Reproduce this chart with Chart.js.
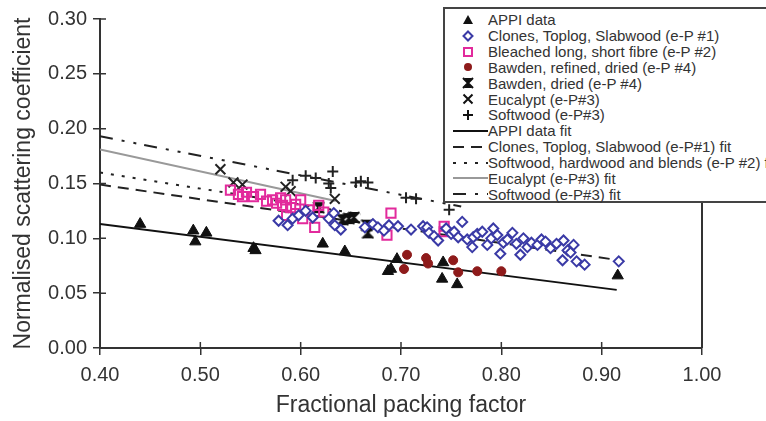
<!DOCTYPE html>
<html>
<head>
<meta charset="utf-8">
<script src="https://cdn.jsdelivr.net/npm/chart.js@4.4.0/dist/chart.umd.min.js"></script>
<style>
  html, body { margin: 0; padding: 0; background: #fff; overflow: hidden; }
  #wrap { position: relative; width: 766px; height: 421px; overflow: hidden; }
  #legend {
    position: absolute; left: 443px; top: 7px; width: 360px; height: 196px;
    box-sizing: border-box; border: 2px solid #444; background: #fff;
    padding-top: 3px; font-family: 'Liberation Sans', Arial, sans-serif;
    font-size: 15px; color: #333;
  }
  .row { display: flex; align-items: center; height: 15.85px; white-space: nowrap; }
  .row svg { flex: 0 0 43px; }
</style>
</head>
<body>
<div id="wrap">
  <canvas id="chart" width="766" height="421"></canvas>
  <div id="legend"></div>
</div>
<script>
// Values
const appiX = [0.440, 0.493, 0.495, 0.506, 0.553, 0.555, 0.622, 0.644, 0.687, 0.690, 0.696, 0.742, 0.741, 0.756, 0.916];
const appiY = [0.113, 0.107, 0.097, 0.105, 0.091, 0.089, 0.095, 0.088, 0.070, 0.072, 0.081, 0.078, 0.063, 0.058, 0.066];

const clonesX = [0.578, 0.587, 0.592, 0.598, 0.605, 0.612, 0.628, 0.633, 0.634, 0.640, 0.664, 0.672, 0.677, 0.683, 0.688,
  0.697, 0.710, 0.722, 0.726, 0.728, 0.733, 0.737, 0.745, 0.750, 0.753, 0.757, 0.761, 0.766, 0.771, 0.772,
  0.776, 0.781, 0.786, 0.790, 0.792, 0.796, 0.799, 0.802, 0.806, 0.811, 0.815, 0.819, 0.822, 0.826, 0.830,
  0.836, 0.840, 0.844, 0.849, 0.855, 0.861, 0.862, 0.866, 0.869, 0.872, 0.875, 0.883, 0.917];
const clonesY = [0.116, 0.112, 0.118, 0.121, 0.125, 0.119, 0.118, 0.123, 0.112, 0.108, 0.110, 0.113, 0.110, 0.107, 0.112,
  0.111, 0.108, 0.111, 0.110, 0.105, 0.102, 0.098, 0.109, 0.104, 0.106, 0.101, 0.115, 0.099, 0.092, 0.101,
  0.104, 0.106, 0.094, 0.100, 0.109, 0.103, 0.086, 0.096, 0.099, 0.105, 0.095, 0.085, 0.100, 0.092, 0.096,
  0.094, 0.099, 0.097, 0.091, 0.095, 0.080, 0.098, 0.089, 0.087, 0.094, 0.079, 0.076, 0.079];

const bleachedX = [0.530, 0.538, 0.542, 0.546, 0.553, 0.560, 0.566, 0.572, 0.576, 0.580, 0.582, 0.585, 0.586,
  0.590, 0.595, 0.600, 0.602, 0.608, 0.614, 0.618, 0.623, 0.690, 0.686, 0.743, 0.743];
const bleachedY = [0.144, 0.140, 0.138, 0.142, 0.138, 0.140, 0.134, 0.135, 0.132, 0.137, 0.130, 0.135, 0.121,
  0.128, 0.131, 0.135, 0.118, 0.126, 0.110, 0.130, 0.124, 0.123, 0.103, 0.111, 0.106];

const bawdenRefX = [0.703, 0.706, 0.725, 0.727, 0.752, 0.757, 0.776, 0.800];
const bawdenRefY = [0.072, 0.085, 0.082, 0.077, 0.080, 0.069, 0.070, 0.070];

const bawdenDryX = [0.618, 0.642, 0.648, 0.653, 0.666, 0.667];
const bawdenDryY = [0.128, 0.117, 0.118, 0.119, 0.112, 0.105];

const eucX = [0.520, 0.533, 0.542, 0.585, 0.590, 0.634];
const eucY = [0.163, 0.151, 0.149, 0.147, 0.143, 0.136];

const softX = [0.592, 0.605, 0.615, 0.628, 0.630, 0.632, 0.655, 0.660, 0.667, 0.705, 0.715, 0.748];
const softY = [0.153, 0.157, 0.155, 0.150, 0.146, 0.161, 0.151, 0.152, 0.151, 0.137, 0.136, 0.126];

// fit lines: [start, end]
const appiFitX = [0.40, 0.915];
const appiFitY = [0.113, 0.053];
const clonesFitX = [0.40, 0.91];
const clonesFitY = [0.149, 0.081];
const blendsFitX = [0.40, 0.66];
const blendsFitY = [0.160, 0.122];
const eucFitX = [0.40, 0.635];
const eucFitY = [0.181, 0.134];
const softFitX = [0.40, 0.76];
const softFitY = [0.193, 0.129];

const xTicks = [0.40, 0.50, 0.60, 0.70, 0.80, 0.90, 1.00];
const yTicks = [0.00, 0.05, 0.10, 0.15, 0.20, 0.25, 0.30];

const INK = '#333';
const BLUE = '#3a3aa6';
const PINK = '#e22a9c';
const RED = '#8e1b1b';

function pts(xs, ys) {
    return xs.map((x, i) => ({ x: x, y: ys[i] }));
}

// hourglass-like marker for "Bawden, dried"
function makeBowtie() {
    const c = document.createElement('canvas');
    c.width = 13; c.height = 13;
    const g = c.getContext('2d');
    g.fillStyle = '#111';
    g.strokeStyle = '#111';
    g.lineWidth = 2;
    g.beginPath();
    g.moveTo(2, 1); g.lineTo(11, 1); g.lineTo(6.5, 6.5); g.closePath();
    g.moveTo(2, 12); g.lineTo(11, 12); g.lineTo(6.5, 6.5); g.closePath();
    g.fill();
    g.beginPath();
    g.moveTo(1, 1); g.lineTo(12, 12);
    g.moveTo(12, 1); g.lineTo(1, 12);
    g.stroke();
    return c;
}
const bowtie = makeBowtie();

function scatterSet(label, data, style, color, fill, radius, width) {
    return {
        label: label, data: data, pointStyle: style, pointRadius: radius,
        borderColor: color, backgroundColor: fill, pointBorderWidth: width,
        showLine: false
    };
}
function fitSet(label, data, color, dash, width) {
    return {
        label: label, data: data, showLine: true, pointRadius: 0,
        borderColor: color, borderDash: dash, borderWidth: width, fill: false
    };
}

const datasets = [
    scatterSet('APPI data', pts(appiX, appiY), 'triangle', '#111', '#111', 6.5, 1),
    scatterSet('Clones, Toplog, Slabwood (e-P #1)', pts(clonesX, clonesY), 'rectRot', BLUE, '#fff', 5, 2),
    scatterSet('Bleached long, short fibre (e-P #2)', pts(bleachedX, bleachedY), 'rect', PINK, 'rgba(255,255,255,0)', 6.5, 2),
    scatterSet('Bawden, refined, dried (e-P #4)', pts(bawdenRefX, bawdenRefY), 'circle', RED, RED, 4.5, 1),
    scatterSet('Bawden, dried (e-P #4)', pts(bawdenDryX, bawdenDryY), bowtie, '#111', '#111', 6, 1),
    scatterSet('Eucalypt (e-P#3)', pts(eucX, eucY), 'crossRot', '#222', '#222', 7, 2),
    scatterSet('Softwood (e-P#3)', pts(softX, softY), 'cross', '#222', '#222', 5.5, 2),
    fitSet('APPI data fit', pts(appiFitX, appiFitY), '#111', [], 2),
    fitSet('Clones, Toplog, Slabwood (e-P#1) fit', pts(clonesFitX, clonesFitY), '#222', [11, 7], 2),
    fitSet('Softwood, hardwood and blends (e-P #2) fit', pts(blendsFitX, blendsFitY), '#222', [3, 8], 2),
    fitSet('Eucalypt (e-P#3) fit', pts(eucFitX, eucFitY), '#999', [], 2),
    fitSet('Softwood (e-P#3) fit', pts(softFitX, softFitY), '#222', [13, 9, 3, 9, 3, 8], 2)
];

// ticks cross the axis and a right-hand frame line
const framePlugin = {
    id: 'frame',
    afterDraw(chart) {
        const { ctx, chartArea: a, scales } = chart;
        ctx.save();
        ctx.strokeStyle = INK;
        ctx.lineWidth = 1.5;
        ctx.beginPath();
        xTicks.forEach(v => {
            const px = scales.x.getPixelForValue(v);
            ctx.moveTo(px, a.bottom); ctx.lineTo(px, a.bottom - 6);
        });
        yTicks.forEach(v => {
            const py = scales.y.getPixelForValue(v);
            ctx.moveTo(a.left, py); ctx.lineTo(a.left + 6, py);
        });
        ctx.stroke();
        ctx.lineWidth = 2;
        ctx.beginPath();
        ctx.moveTo(a.right, a.top); ctx.lineTo(a.right, a.bottom);
        ctx.stroke();
        ctx.restore();
    }
};

const tickFont = { family: "'Liberation Sans', Arial, sans-serif", size: 20 };
const titleFont = { family: "'Liberation Sans', Arial, sans-serif", size: 23 };

new Chart(document.getElementById('chart'), {
    type: 'scatter',
    data: { datasets: datasets },
    options: {
        responsive: false,
        animation: false,
        layout: { padding: { top: 19, right: 64, left: 0, bottom: 0 } },
        plugins: { legend: { display: false }, tooltip: { enabled: false } },
        scales: {
            x: {
                type: 'linear', min: 0.4, max: 1.0,
                afterBuildTicks: s => { s.ticks = xTicks.map(v => ({ value: v })); },
                afterFit: s => { s.height = 73; },
                ticks: { color: INK, font: tickFont, padding: 8, callback: v => v.toFixed(2) },
                grid: { display: true, drawOnChartArea: false, drawTicks: true, tickLength: 7, color: INK, lineWidth: 1.5 },
                border: { display: true, color: INK, width: 2 },
                title: { display: true, text: 'Fractional packing factor', color: INK, font: titleFont, padding: { top: 0, bottom: 2 } }
            },
            y: {
                type: 'linear', min: 0, max: 0.3,
                afterBuildTicks: s => { s.ticks = yTicks.map(v => ({ value: v })); },
                afterFit: s => { s.width = 100; },
                ticks: { color: INK, font: tickFont, padding: 6, callback: v => v.toFixed(2) },
                grid: { display: true, drawOnChartArea: false, drawTicks: true, tickLength: 7, color: INK, lineWidth: 1.5 },
                border: { display: true, color: INK, width: 2 },
                title: { display: true, text: 'Normalised scattering coefficient', color: INK, font: titleFont, padding: { top: 10, bottom: 0 } }
            }
        }
    },
    plugins: [framePlugin]
});

// HTML legend
function keySvg(ds) {
    if (ds.showLine) {
        const dash = ds.borderDash.length ? ` stroke-dasharray="${ds.borderDash.join(' ')}"` : '';
        return `<svg width="43" height="16"><line x1="8" y1="8" x2="43" y2="8" stroke="${ds.borderColor}" stroke-width="2"${dash}/></svg>`;
    }
    const c = ds.borderColor, cx = 23, cy = 8;
    let shape = '';
    switch (ds.label) {
        case 'APPI data':
            shape = `<polygon points="${cx},${cy - 5} ${cx + 5},${cy + 4} ${cx - 5},${cy + 4}" fill="#111"/>`; break;
        case 'Clones, Toplog, Slabwood (e-P #1)':
            shape = `<polygon points="${cx},${cy - 4.5} ${cx + 4.5},${cy} ${cx},${cy + 4.5} ${cx - 4.5},${cy}" fill="#fff" stroke="${c}" stroke-width="2"/>`; break;
        case 'Bleached long, short fibre (e-P #2)':
            shape = `<rect x="${cx - 4}" y="${cy - 4}" width="8" height="8" fill="#fff" stroke="${c}" stroke-width="2"/>`; break;
        case 'Bawden, refined, dried (e-P #4)':
            shape = `<circle cx="${cx}" cy="${cy}" r="4" fill="${c}"/>`; break;
        case 'Bawden, dried (e-P #4)':
            shape = `<polygon points="${cx - 4},${cy - 5} ${cx + 4},${cy - 5} ${cx},${cy} ${cx + 4},${cy + 5} ${cx - 4},${cy + 5} ${cx},${cy}" fill="#111"/>` +
                `<path d="M${cx - 5} ${cy - 5} L${cx + 5} ${cy + 5} M${cx + 5} ${cy - 5} L${cx - 5} ${cy + 5}" stroke="#111" stroke-width="2"/>`; break;
        case 'Eucalypt (e-P#3)':
            shape = `<path d="M${cx - 4.5} ${cy - 4.5} L${cx + 4.5} ${cy + 4.5} M${cx + 4.5} ${cy - 4.5} L${cx - 4.5} ${cy + 4.5}" stroke="#111" stroke-width="2"/>`; break;
        default:
            shape = `<path d="M${cx - 5} ${cy} L${cx + 5} ${cy} M${cx} ${cy - 5} L${cx} ${cy + 5}" stroke="#111" stroke-width="2"/>`;
    }
    return `<svg width="43" height="16">${shape}</svg>`;
}

document.getElementById('legend').innerHTML = datasets.map(ds =>
    `<div class="row">${keySvg(ds)}<span>${ds.label}</span></div>`
).join('');
</script>
</body>
</html>
